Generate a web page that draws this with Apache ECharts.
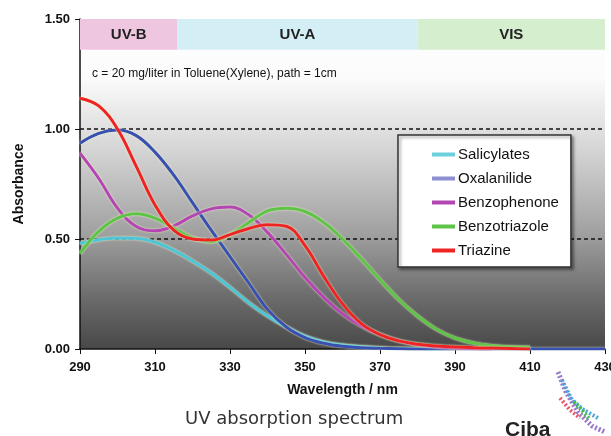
<!DOCTYPE html>
<html><head><meta charset="utf-8">
<script src="https://cdn.jsdelivr.net/npm/echarts@6/dist/echarts.min.js"></script>
<style>html,body{margin:0;padding:0;background:#fff}#c{width:611px;height:436px}</style>
</head><body><div id="c"></div>
<script>
const wavelengths = [290,295,300,305,310,315,320,325,330,335,340,345,350,355,360,365,370,375,380,385,390,395,400,405,410,415,420,425,430];
const salicylates   = [0.48,0.497,0.505,0.503,0.485,0.448,0.40,0.345,0.28,0.21,0.15,0.10,0.058,0.032,0.018,0.01,0.005,0.002,0.001,0,0,null,null,null,null,null,null,null,null];
const oxalanilide   = [0.935,0.98,0.995,0.97,0.895,0.79,0.665,0.54,0.42,0.30,0.18,0.10,0.052,0.026,0.012,0.006,0.003,0.001,0,0,0,0,0,0,0,0,0,0,0];
const benzophenone  = [0.89,0.775,0.64,0.557,0.537,0.56,0.605,0.637,0.645,0.61,0.53,0.43,0.325,0.235,0.16,0.105,0.065,0.037,0.02,0.01,0.004,0.001,0,null,null,null,null,null,null];
const benzotriazole = [0.435,0.535,0.595,0.615,0.595,0.55,0.505,0.488,0.52,0.575,0.628,0.64,0.625,0.575,0.50,0.41,0.315,0.225,0.15,0.09,0.05,0.027,0.015,0.01,0.008,null,null,null,null];
const triazine      = [1.14,1.105,1.0,0.83,0.655,0.54,0.50,0.495,0.52,0.548,0.565,0.558,0.47,0.33,0.205,0.115,0.065,0.037,0.022,0.014,0.009,0.006,0.004,0.002,0,null,null,null,null];
const seriesNames = ['Salicylates','Oxalanilide','Benzophenone','Benzotriazole','Triazine'];
const seriesValues = [salicylates, oxalanilide, benzophenone, benzotriazole, triazine];
const lineColors = ['#4cc6d6','#3850b0','#b446b4','#5ec447','#ee2424'];
const legendColors = ['#6cd0dc','#8d8fd0','#b446b4','#5ec447','#ee2424'];
const bandNames = ['UV-B','UV-A','VIS'];
const bandStarts = [290,316,380];
const bandEnds = [316,380,430];
const bandColors = ['#efc6e0','#d3eef5','#d5eecd'];
const bandBottom = 1.36, bandTop = 1.5;

const pairs = v => wavelengths.map((w,i)=> v[i]==null ? null : [w, v[i]]).filter(p=>p);

const chart = echarts.init(document.getElementById('c'));
const series = seriesNames.map((n,i)=>({
  name:n, type:'line', smooth:0.4, symbol:'none', data:pairs(seriesValues[i]),
  lineStyle:{color:lineColors[i], width:3, shadowColor:'rgba(255,255,210,0.9)', shadowBlur:2},
  itemStyle:{color:lineColors[i]}, z:3+i
}));
series[0].markArea = {
  silent:true,
  label:{position:'inside', color:'#222', fontWeight:'bold', fontSize:15, fontFamily:'Liberation Sans'},
  data: bandNames.map((b,i)=>[
    {name:b, xAxis:bandStarts[i], yAxis:bandBottom, itemStyle:{color:bandColors[i]}},
    {xAxis:bandEnds[i], yAxis:bandTop}
  ])
};
chart.setOption({
  animation:false,
  grid:{left:80,right:6,top:19,bottom:87,show:true,borderWidth:0,containLabel:false,outerBoundsMode:'none',
    backgroundColor:new echarts.graphic.LinearGradient(0,0,0,1,[
      {offset:0,color:'#ffffff'},{offset:0.18,color:'#fbfbfb'},{offset:0.4,color:'#d4d4d4'},
      {offset:0.65,color:'#a0a0a0'},{offset:0.85,color:'#6a6a6a'},{offset:1,color:'#484848'}])},
  xAxis:{type:'value',min:290,max:430,interval:20,
    name:'Wavelength / nm',nameLocation:'middle',nameGap:34,
    nameTextStyle:{fontWeight:'bold',fontSize:14,color:'#111',fontFamily:'Liberation Sans'},
    axisLine:{lineStyle:{color:'#111',width:1.5}},axisTick:{show:true,length:5,lineStyle:{color:'#111'}},
    axisLabel:{fontWeight:'bold',fontSize:13,color:'#111',margin:12,fontFamily:'Liberation Sans'},
    splitLine:{show:false}},
  yAxis:{type:'value',min:0,max:1.5,interval:0.5,
    name:'Absorbance',nameLocation:'middle',nameGap:54,
    nameTextStyle:{fontWeight:'bold',fontSize:14,color:'#111',fontFamily:'Liberation Sans'},
    axisLine:{show:true,lineStyle:{color:'#111',width:1.5}},axisTick:{show:true,length:5,lineStyle:{color:'#111'}},
    axisLabel:{fontWeight:'bold',fontSize:13,color:'#111',margin:10,fontFamily:'Liberation Sans',
      formatter:v=>v.toFixed(2)},
    splitLine:{show:true,showMaxLine:false,showMinLine:false,lineStyle:{color:'#111',type:[4,3],width:1.5}}},
  legend:{orient:'vertical',left:398,top:135,
    padding:[12,12,9,34],itemGap:9,itemWidth:23,itemHeight:4,icon:'rect',
    backgroundColor:'#ffffff',borderColor:'#333',borderWidth:1.5,
    shadowColor:'rgba(0,0,0,0.4)',shadowBlur:3,shadowOffsetX:2,shadowOffsetY:2,
    textStyle:{fontSize:15,color:'#111',fontFamily:'Liberation Sans',padding:[0,0,0,-2]},
    data:seriesNames.map((n,i)=>({name:n,itemStyle:{color:legendColors[i]}}))},
  graphic:[
    {type:'text',left:92,top:68,style:{text:'c = 20 mg/liter in Toluene(Xylene), path = 1cm',fontSize:12,fill:'#111',fontFamily:'Liberation Sans'}},
    {type:'text',left:185,top:410,style:{text:'UV absorption spectrum',fontSize:18,fill:'#333',fontFamily:'DejaVu Sans'}},
    {type:'rect',left:490,top:377,shape:{width:121,height:59},style:{fill:'#ffffff'}},
    {type:'text',left:505,top:420,style:{text:'Ciba',fontSize:21,fontWeight:'bold',fill:'#222',fontFamily:'Liberation Sans'}},
    {type:'polyline',shape:{points:[[558,372],[566,392],[578,412],[592,426],[605,432]]},style:{stroke:'#9a7ac8',lineWidth:5,lineDash:[2,2],fill:null}},
    {type:'polyline',shape:{points:[[562,380],[572,400],[584,410],[598,418]]},style:{stroke:'#4aa8dc',lineWidth:4,lineDash:[2,2],fill:null}},
    {type:'polyline',shape:{points:[[560,398],[570,410],[580,418]]},style:{stroke:'#e45a6a',lineWidth:4,lineDash:[2,2],fill:null}},
    {type:'polyline',shape:{points:[[574,402],[582,410],[590,420]]},style:{stroke:'#4cb848',lineWidth:4,lineDash:[2,2],fill:null}}
  ],
  series:series
});
</script></body></html>
